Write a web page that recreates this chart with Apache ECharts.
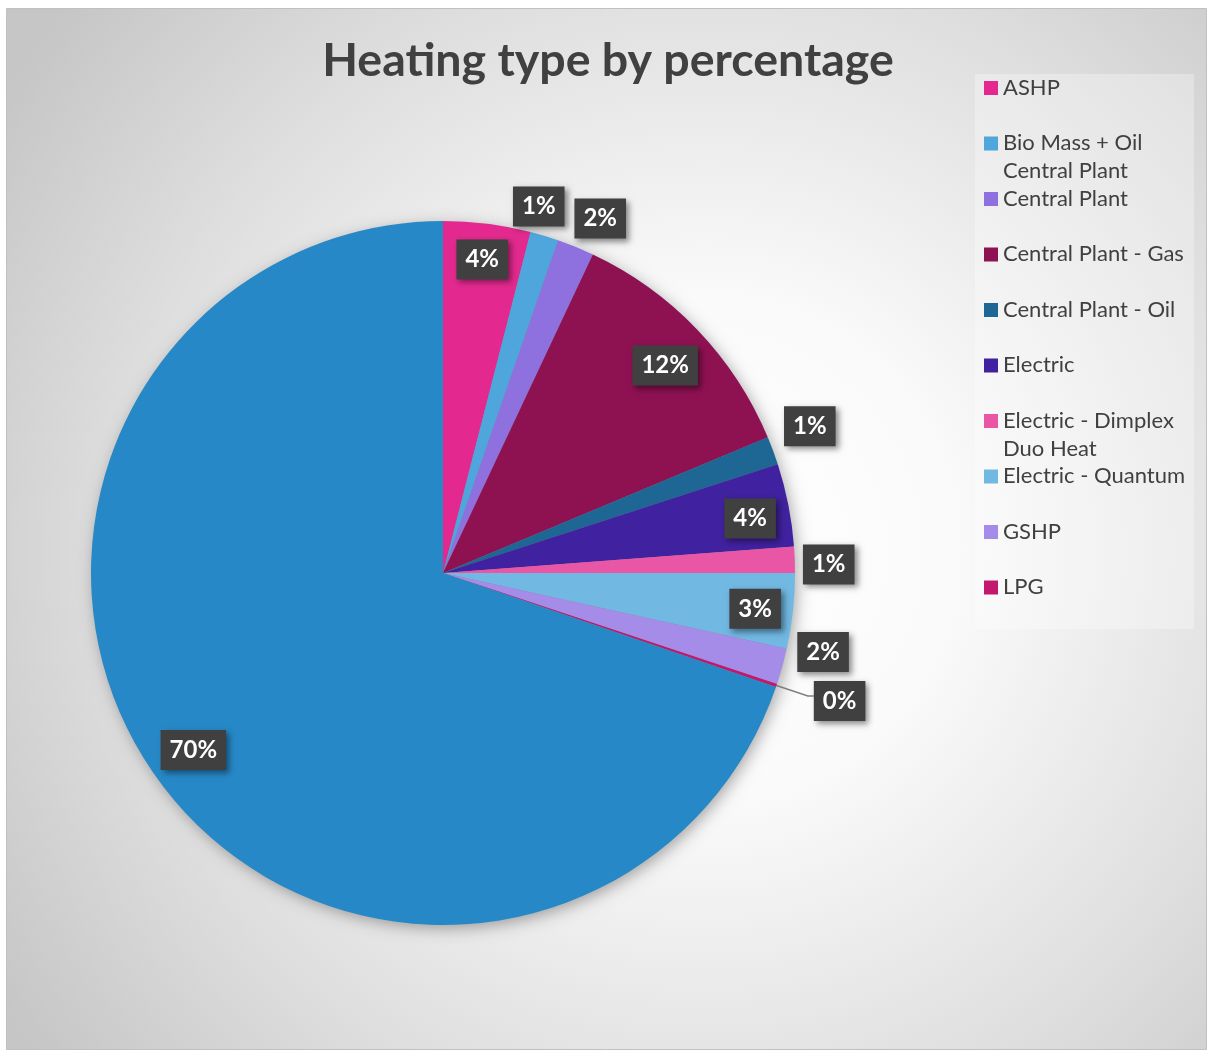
<!DOCTYPE html>
<html><head><meta charset="utf-8">
<script src="https://cdn.jsdelivr.net/npm/echarts@6/dist/echarts.min.js"></script>
<style>html,body{margin:0;padding:0;background:#fff}#c{width:1209px;height:1052px}</style>
</head><body><div id="c"></div>
<script>
// ---- data ----
const categories = ['ASHP', 'Bio Mass + Oil Central Plant', 'Central Plant', 'Central Plant - Gas',
  'Central Plant - Oil', 'Electric', 'Electric - Dimplex Duo Heat', 'Electric - Quantum', 'GSHP', 'LPG', 'Other'];
const legendLabels = ['ASHP', 'Bio Mass + Oil\nCentral Plant', 'Central Plant', 'Central Plant - Gas',
  'Central Plant - Oil', 'Electric', 'Electric - Dimplex\nDuo Heat', 'Electric - Quantum', 'GSHP', 'LPG'];
const percentValues = [4.0, 1.3, 1.7, 11.7, 1.3, 3.8, 1.2, 3.45, 1.65, 0.15, 69.75];
// ---- style ----
const colors = ['#E3298F', '#4EA6DC', '#8E70DF', '#8E1152', '#1E6693', '#40219F', '#EA56A6', '#71B8E3', '#A48CE8', '#C4186F', '#2688C6'];
const labelPlacement = ['in', 'out', 'out', 'in', 'out', 'in', 'out', 'in', 'out', 'line', 'in'];
// small manual label nudges (px), like the hand-moved labels in the original
const labelNudge = [[0, -3], [-16, 5], [11, 5], [-4, 9], [3, -12], [0, 6], [-2, 6], [1, 2], [6, -24], [0, 5], [5, -5]];

const CENTER = [443, 573];
const R = 352;

const boxLabel = {
  show: true, color: '#ffffff', fontFamily: 'Lato', fontWeight: 'bold', fontSize: 24,
  backgroundColor: '#404040', padding: [8, 9],
  shadowColor: 'rgba(0,0,0,0.45)', shadowBlur: 6, shadowOffsetX: 3, shadowOffsetY: 3,
  formatter: p => Math.round(p.value) + '%'
};

function overlayData(kind) {
  return categories.map((n, i) => ({
    name: n, value: percentValues[i],
    label: labelPlacement[i] === kind ? Object.assign({}, boxLabel, {position: 'inside'}) : {show: false}
  }));
}
const nudgeLayout = p => ({dx: labelNudge[p.dataIndex][0], dy: labelNudge[p.dataIndex][1], hideOverlap: false});

const option = {
  animation: false,
  graphic: [{
    type: 'rect', z: -10, silent: true,
    shape: {x: 6.5, y: 8.5, width: 1200, height: 1041},
    style: {
      fill: {type: 'radial', x: 0.58, y: 0.52, r: 0.8, colorStops: [
        {offset: 0, color: '#ffffff'}, {offset: 0.3, color: '#fafafa'},
        {offset: 0.7, color: '#dedede'}, {offset: 1, color: '#c6c6c6'}]},
      stroke: '#c0c0c0', lineWidth: 1
    }
  }],
  title: {
    text: 'Heating type by percentage', left: 603, textAlign: 'center', top: 32,
    textStyle: {fontFamily: 'Lato', fontWeight: 'bold', fontSize: 46.5, color: '#404040'}
  },
  legend: {
    orient: 'vertical', left: 975, top: 74,
    data: categories.slice(0, 10),
    formatter: name => {
      const t = legendLabels[categories.indexOf(name)];
      return t.indexOf('\n') >= 0 ? t : t + '\n ';
    },
    itemWidth: 14, itemHeight: 41.75, itemGap: 0,
    icon: 'path://M0,0L14,0L14,14L0,14Z M0,41.75L14,41.75',
    itemStyle: {borderWidth: 0},
    padding: [0, 9, 0, 9],
    backgroundColor: 'rgba(255,255,255,0.3)',
    selectedMode: false,
    textStyle: {fontFamily: 'Lato', fontSize: 22, color: '#404040', lineHeight: 27.75}
  },
  series: [
    {
      type: 'pie', name: 'main', z: 3, center: CENTER, radius: R,
      startAngle: 90, clockwise: true, avoidLabelOverlap: false,
      emphasis: {disabled: true},
      itemStyle: {borderWidth: 0},
      labelLine: {length: 33, length2: 6, smooth: false, lineStyle: {color: '#7f7f7f', width: 1.5}},
      labelLayout: nudgeLayout,
      data: categories.map((n, i) => ({
        name: n, value: percentValues[i], itemStyle: {color: colors[i]},
        label: labelPlacement[i] === 'line'
          ? Object.assign({}, boxLabel, {position: 'outside', distanceToLabelLine: 0})
          : {show: false},
        labelLine: {show: labelPlacement[i] === 'line'}
      }))
    },
    {
      type: 'pie', name: 'shadow', z: 2, silent: true, center: CENTER, radius: R - 1,
      startAngle: 90, clockwise: true, avoidLabelOverlap: false,
      emphasis: {disabled: true},
      label: {show: false}, labelLine: {show: false},
      itemStyle: {color: '#8a8a8a', borderWidth: 0, shadowBlur: 16, shadowColor: 'rgba(0,0,0,0.35)', shadowOffsetX: 3, shadowOffsetY: 4},
      data: categories.map((n, i) => ({name: n, value: percentValues[i]}))
    },
    {
      type: 'pie', name: 'labelsIn', z: 5, silent: true, center: CENTER, radius: [268, R],
      startAngle: 90, clockwise: true, avoidLabelOverlap: false,
      emphasis: {disabled: true}, labelLine: {show: false},
      labelLayout: nudgeLayout,
      itemStyle: {color: 'rgba(0,0,0,0)', borderWidth: 0},
      data: overlayData('in')
    },
    {
      type: 'pie', name: 'labelsOut', z: 5, silent: true, center: CENTER, radius: [R, 418],
      startAngle: 90, clockwise: true, avoidLabelOverlap: false,
      emphasis: {disabled: true}, labelLine: {show: false},
      labelLayout: nudgeLayout,
      itemStyle: {color: 'rgba(0,0,0,0)', borderWidth: 0},
      data: overlayData('out')
    }
  ]
};
const chart = echarts.init(document.getElementById('c'));
chart.setOption(option);
</script>
</body></html>
